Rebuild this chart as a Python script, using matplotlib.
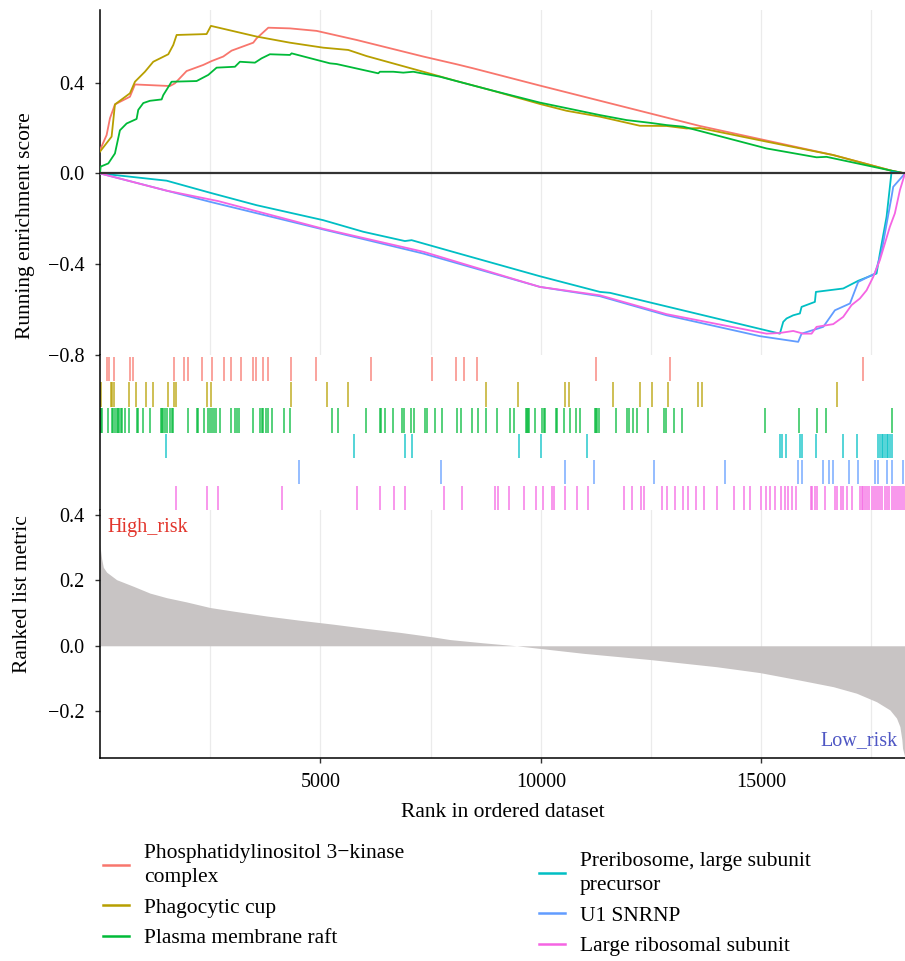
import numpy as np
import matplotlib.pyplot as plt
from matplotlib.lines import Line2D

plt.rcParams['font.family'] = ['Liberation Serif', 'DejaVu Serif']

W, H = 905, 961
n_genes = 18260

set_names = ['Phosphatidylinositol 3\u2212kinase\ncomplex', 'Phagocytic cup', 'Plasma membrane raft',
             'Preribosome, large subunit\nprecursor', 'U1 SNRNP', 'Large ribosomal subunit']
set_colors = ['#F8766D', '#B79F00', '#00BA38', '#00BFC4', '#619CFF', '#F564E3']

# running enrichment score (rank, score)
es_pi3k_rank = [1, 151, 227, 340, 680, 794, 1587, 1701, 1965, 2344, 2532, 2797, 2986, 3477, 3553, 3818, 4309,
                4914, 5821, 7333, 8089, 8467, 9979, 13608, 16632, 17955, 18260]
es_pi3k = [0.103, 0.169, 0.243, 0.304, 0.338, 0.392, 0.385, 0.397, 0.451, 0.478, 0.495, 0.515, 0.541, 0.576,
           0.595, 0.642, 0.639, 0.628, 0.588, 0.515, 0.481, 0.463, 0.387, 0.209, 0.081, 0.012, 0.0]

es_phago_rank = [1, 264, 340, 680, 794, 1020, 1209, 1550, 1663, 1739, 2419, 2517, 3553, 4309, 5065, 5632, 6048,
                 7333, 8089, 8845, 9979, 10584, 11340, 12247, 12852, 13306, 13608, 15120, 16632, 17955, 18260]
es_phago = [0.096, 0.162, 0.304, 0.353, 0.404, 0.448, 0.492, 0.525, 0.566, 0.610, 0.614, 0.650, 0.603, 0.576,
            0.554, 0.544, 0.517, 0.448, 0.407, 0.368, 0.306, 0.276, 0.250, 0.210, 0.209, 0.198, 0.200, 0.140,
            0.081, 0.012, 0.0]

es_raft_rank = [1, 15, 189, 340, 453, 605, 831, 869, 983, 1134, 1399, 1436, 1625, 2192, 2457, 2646, 3062, 3175,
                3515, 3666, 3855, 4309, 4347, 5216, 5367, 6313, 6350, 6653, 6880, 7106, 7711, 8845, 9979, 11340,
                11945, 12474, 12852, 13230, 13608, 15120, 16254, 16481, 17955, 18260]
es_raft = [0.0, 0.03, 0.044, 0.088, 0.19, 0.22, 0.24, 0.28, 0.31, 0.32, 0.326, 0.345, 0.404, 0.407, 0.434, 0.466,
           0.47, 0.492, 0.488, 0.507, 0.525, 0.522, 0.529, 0.485, 0.482, 0.441, 0.448, 0.448, 0.444, 0.448, 0.426,
           0.368, 0.312, 0.257, 0.235, 0.223, 0.213, 0.206, 0.187, 0.11, 0.071, 0.073, 0.012, 0.0]

es_prerib_rank = [1, 1512, 2495, 3553, 5065, 5972, 6917, 7068, 8089, 9979, 11340, 11567, 15422, 15498, 15574,
                  15725, 15876, 15914, 16216, 16239, 16859, 17199, 17615, 17690, 17842, 17955, 18260]
es_prerib = [0.0, -0.032, -0.085, -0.14, -0.206, -0.257, -0.298, -0.294, -0.35, -0.453, -0.522, -0.526, -0.706,
             -0.654, -0.639, -0.625, -0.617, -0.588, -0.566, -0.522, -0.507, -0.473, -0.441, -0.353, -0.191,
             0.007, 0.0]

es_u1_rank = [1, 1512, 2495, 5065, 7333, 9979, 11340, 12852, 14969, 15838, 15914, 16406, 16670, 17012, 17199,
              17577, 17728, 17955, 17993, 18260]
es_u1 = [0.0, -0.076, -0.125, -0.247, -0.353, -0.50, -0.541, -0.625, -0.717, -0.742, -0.706, -0.676, -0.603,
         -0.573, -0.478, -0.441, -0.345, -0.103, -0.059, 0.0]

es_ribo_rank = [1, 1512, 2684, 5065, 7333, 9979, 11340, 12852, 15120, 15422, 15725, 15952, 16140, 16254, 16632,
                16859, 17048, 17237, 17388, 17539, 17690, 17917, 18030, 18144, 18260]
es_ribo = [0.0, -0.076, -0.122, -0.244, -0.345, -0.50, -0.537, -0.62, -0.706, -0.703, -0.694, -0.706, -0.706,
           -0.676, -0.664, -0.632, -0.58, -0.551, -0.515, -0.456, -0.382, -0.235, -0.176, -0.074, 0.0]

# gene set hit positions (ranks)
hits_pi3k = [166, 211, 324, 680, 741, 1678, 1898, 1988, 2321, 2532, 2820, 2971, 3198, 3462, 3530, 3704, 3817,
             4325, 4899, 6146, 7522, 8067, 8255, 8543, 11249, 12928, 17312]
hits_phago = [15, 249, 280, 318, 658, 809, 1043, 1210, 1535, 1678, 1724, 2420, 2510, 4332, 5148, 5625, 8747,
              9488, 10547, 10637, 11628, 12254, 12512, 12875, 13556, 13646, 16708]
hits_raft = [15, 38, 189, 264, 302, 348, 378, 408, 438, 469, 491, 567, 665, 831, 869, 983, 1134, 1383, 1414,
             1436, 1474, 1512, 1587, 1625, 1663, 2003, 2192, 2230, 2366, 2457, 2495, 2532, 2585, 2631, 2721,
             2971, 3062, 3099, 3160, 3462, 3629, 3666, 3704, 3765, 3818, 3908, 4173, 4309, 5269, 5390, 6040,
             6343, 6373, 6471, 6653, 6857, 6895, 7046, 7121, 7371, 7424, 7598, 7764, 8104, 8188, 8444, 8580,
             8747, 9011, 9299, 9390, 9654, 9684, 9714, 9737, 9866, 10032, 10070, 10100, 10342, 10372, 10531,
             10660, 10788, 10886, 11219, 11249, 11280, 11310, 11695, 11960, 11990, 12081, 12187, 12421, 12799,
             12829, 13018, 13207, 15090, 15853, 16262, 16458, 17970]
hits_prerib = [1497, 5768, 6917, 7068, 9510, 10009, 11038, 15422, 15460, 15551, 15876, 15914, 16239, 16844,
               17176, 17637, 17690, 17728, 17766, 17804, 17842, 17880, 17917, 17955]
hits_u1 = [4521, 7734, 10546, 11211, 12564, 14183, 15838, 15914, 16390, 16541, 16632, 16995, 17199, 17577,
           17653, 17842, 17955, 18220]
hits_ribo = [1723, 2419, 2684, 4120, 5836, 6343, 6675, 6925, 7809, 8217, 8958, 9034, 9276, 9624, 9888, 10055,
             10244, 10297, 10546, 10826, 11075, 11884, 12058, 12262, 12338, 12739, 12852, 13041, 13215, 13343,
             13517, 13699, 13986, 14386, 14606, 14742, 14984, 15105, 15196, 15309, 15445, 15536, 15611, 15687,
             15778, 16118, 16156, 16216, 16269, 16443, 16670, 16708, 16798, 16859, 16934, 17048, 17237, 17275,
             17312, 17350, 17403, 17448, 17501, 17554, 17599, 17653, 17690, 17743, 17804, 17857, 17902, 17955,
             18008, 18053, 18106, 18144, 18197, 18235]

# ranked list metric
metric_rank = [1, 15, 38, 76, 151, 378, 756, 1134, 1512, 1966, 2495, 3024, 3780, 4536, 5292, 6048, 6804, 7560,
               7938, 8694, 9450, 10962, 12474, 13986, 14969, 15876, 16632, 17161, 17615, 17917, 18068, 18144,
               18189, 18204, 18260]
metric_value = [0.31, 0.29, 0.266, 0.24, 0.225, 0.202, 0.182, 0.161, 0.147, 0.134, 0.117, 0.106, 0.091, 0.078,
                0.066, 0.053, 0.041, 0.027, 0.019, 0.009, 0.0, -0.023, -0.042, -0.064, -0.082, -0.105, -0.125,
                -0.145, -0.171, -0.196, -0.221, -0.247, -0.287, -0.313, -0.343]

es_ranks = [es_pi3k_rank, es_phago_rank, es_raft_rank, es_prerib_rank, es_u1_rank, es_ribo_rank]
es_scores = [es_pi3k, es_phago, es_raft, es_prerib, es_u1, es_ribo]
hits = [hits_pi3k, hits_phago, hits_raft, hits_prerib, hits_u1, hits_ribo]

fig = plt.figure(figsize=(W / 100, H / 100), dpi=100)


def px_axes(x0, y0, x1, y1):
    return fig.add_axes([x0 / W, 1 - y1 / H, (x1 - x0) / W, (y1 - y0) / H])


grid_x = np.arange(2500, n_genes, 2500)
fs_tick = 14.5
fs_lab = 15.5

# running ES panel
ax1 = px_axes(100, 10, 905, 355)
for r, s, c in zip(es_ranks, es_scores, set_colors):
    ax1.plot(r, s, color=c, lw=1.3, zorder=3)
ax1.axhline(0, color='#333333', lw=1.6, zorder=4)
ax1.set_xlim(1, n_genes)
ax1.set_ylim(-0.8, 0.72)
ax1.set_yticks([-0.8, -0.4, 0.0, 0.4])
ax1.set_yticklabels(['\u22120.8', '\u22120.4', '0.0', '0.4'])
ax1.set_xticks(grid_x)
ax1.tick_params(axis='x', length=0, labelbottom=False)
ax1.grid(axis='x', color='#EBEBEB', lw=0.9)
ax1.set_ylabel('Running enrichment score', fontsize=fs_lab)
ax1.yaxis.set_label_coords(-0.081, 0.374)

# hit rug panel
ax2 = px_axes(100, 355, 905, 510)
for i, (h, c) in enumerate(zip(hits, set_colors)):
    ax2.vlines(h, i + 0.06, i + 1, color=c, lw=1.1, alpha=0.85)
ax2.set_xlim(1, n_genes)
ax2.set_ylim(6, 0)
ax2.set_xticks([])
ax2.set_yticks([])

# ranked metric panel
ax3 = px_axes(100, 510, 905, 758)
ax3.fill_between(metric_rank, 0, metric_value, color='#C8C4C4', lw=0, zorder=2)
ax3.set_xlim(1, n_genes)
ax3.set_ylim(-0.343, 0.415)
ax3.set_yticks([-0.2, 0.0, 0.2, 0.4])
ax3.set_yticklabels(['\u22120.2', '0.0', '0.2', '0.4'])
ax3.set_xticks([5000, 10000, 15000])
ax3.set_xticks(grid_x, minor=True)
ax3.tick_params(axis='x', which='minor', length=0)
ax3.grid(axis='x', which='both', color='#EBEBEB', lw=0.9)
ax3.set_axisbelow(True)
ax3.set_ylabel('Ranked list metric', fontsize=fs_lab)
ax3.yaxis.set_label_coords(-0.084, 0.661)
ax3.set_xlabel('Rank in ordered dataset', fontsize=fs_lab)
ax3.xaxis.set_label_coords(0.5, -0.182)
ax3.text(180, 0.362, 'High_risk', color='#E2352C', fontsize=fs_tick, va='center', ha='left')
ax3.text(18100, -0.29, 'Low_risk', color='#4F57C4', fontsize=fs_tick, va='center', ha='right')

for ax in (ax1, ax2, ax3):
    for side in ('top', 'right'):
        ax.spines[side].set_visible(False)
    ax.spines['left'].set_linewidth(1.1)
    ax.spines['bottom'].set_linewidth(1.1)
    ax.tick_params(which='major', labelsize=fs_tick, width=1.0, length=3.6, pad=7.5, color='#333333')
ax1.spines['bottom'].set_visible(False)
ax2.spines['bottom'].set_visible(False)

handles = [Line2D([], [], color=c, lw=1.8) for c in set_colors]
kw = dict(frameon=False, fontsize=15.5, handlelength=1.2, handletextpad=0.7, labelspacing=0.48,
          loc='upper left', borderaxespad=0, borderpad=0)
leg1 = fig.legend(handles[:3], set_names[:3], bbox_to_anchor=(103 / W, 1 - 844 / H), **kw)
leg2 = fig.legend(handles[3:], set_names[3:], bbox_to_anchor=(539 / W, 1 - 852 / H), **kw)
for leg in (leg1, leg2):
    for t in leg.get_texts():
        t.set_linespacing(1.38)

fig.savefig('out.png', dpi=100)
